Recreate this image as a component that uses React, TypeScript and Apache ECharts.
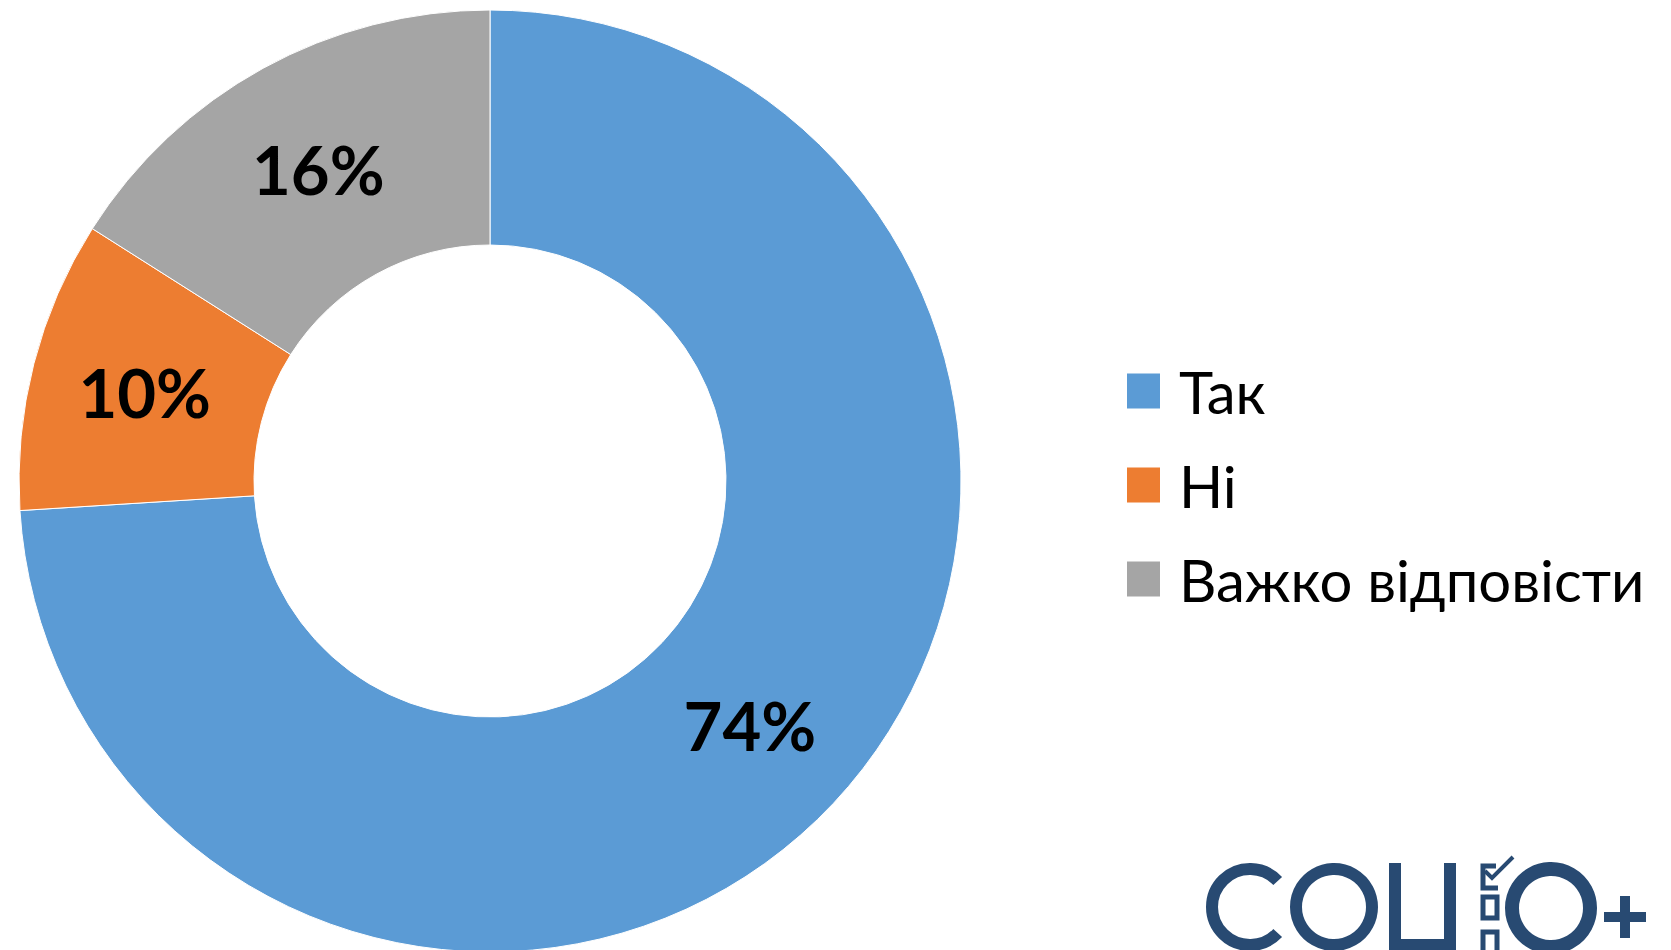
import React, { useEffect, useRef } from "react";
import * as echarts from "echarts";

const categories = ["Так", "Ні", "Важко відповісти"];
const values = [74, 10, 16];
const colors = ["#5B9BD5", "#ED7D31", "#A5A5A5"];
const LOGO = "#284a72";

export default function App() {
  const ref = useRef<HTMLDivElement>(null);
  useEffect(() => {
    document.body.style.margin = "0";
    const chart = echarts.init(ref.current!, null, { renderer: "svg" });
    const logoGraphic: any[] = [
      // C
      {
        type: "arc",
        shape: { cx: 1250, cy: 907, r: 38, startAngle: Math.PI * 0.24, endAngle: Math.PI * 1.76, clockwise: true },
        style: { stroke: LOGO, lineWidth: 12, fill: null },
      },
      // O
      { type: "circle", shape: { cx: 1334, cy: 907, r: 38 }, style: { stroke: LOGO, lineWidth: 12, fill: null } },
      // Ц
      { type: "rect", shape: { x: 1389, y: 863, width: 12, height: 90 }, style: { fill: LOGO } },
      { type: "rect", shape: { x: 1444, y: 863, width: 12, height: 90 }, style: { fill: LOGO } },
      { type: "rect", shape: { x: 1389, y: 939, width: 67, height: 12 }, style: { fill: LOGO } },
      // checkbox column
      {
        type: "polyline",
        shape: { points: [[1496, 866], [1483, 866], [1483, 888], [1498, 888]] },
        style: { stroke: LOGO, lineWidth: 5, fill: null },
      },
      {
        type: "polyline",
        shape: { points: [[1485, 871], [1492, 878], [1513, 857]] },
        style: { stroke: LOGO, lineWidth: 4, fill: null },
      },
      { type: "rect", shape: { x: 1483, y: 897, width: 14, height: 21 }, style: { stroke: LOGO, lineWidth: 5, fill: null } },
      { type: "rect", shape: { x: 1483, y: 932, width: 14, height: 21 }, style: { stroke: LOGO, lineWidth: 5, fill: null } },
      // big O
      { type: "circle", shape: { cx: 1551, cy: 908, r: 39 }, style: { stroke: LOGO, lineWidth: 14, fill: null } },
      // +
      { type: "rect", shape: { x: 1604, y: 912, width: 42, height: 10 }, style: { fill: LOGO } },
      { type: "rect", shape: { x: 1620, y: 896, width: 10, height: 42 }, style: { fill: LOGO } },
    ];
    chart.setOption({
      animation: false,
      backgroundColor: "#ffffff",
      color: colors,
      legend: {
        orient: "vertical",
        left: 1122,
        top: 357,
        itemWidth: 33,
        itemHeight: 35,
        itemGap: 36,
        icon: "rect",
        selectedMode: false,
        itemStyle: { borderWidth: 0 },
        textStyle: {
          fontFamily: "Lato",
          fontSize: 58,
          color: "#000000",
          padding: [0, 0, 0, 14],
        },
        data: categories,
      },
      series: [
        {
          type: "pie",
          center: [490, 481],
          radius: [236, 471],
          startAngle: 90,
          clockwise: true,
          avoidLabelOverlap: false,
          itemStyle: { borderColor: "#ffffff", borderWidth: 1 },
          label: {
            show: true,
            position: "inside",
            formatter: (p: any) => `${p.value}%`,
            fontFamily: "Lato",
            fontWeight: "bold",
            fontSize: 67,
            color: "#000000",
          },
          labelLine: { show: false },
          emphasis: { disabled: true },
          data: categories.map((c, i) => ({ name: c, value: values[i] })),
        },
      ],
      graphic: logoGraphic,
    });
    return () => chart.dispose();
  }, []);
  return <div ref={ref} style={{ width: 1671, height: 950 }} />;
}
